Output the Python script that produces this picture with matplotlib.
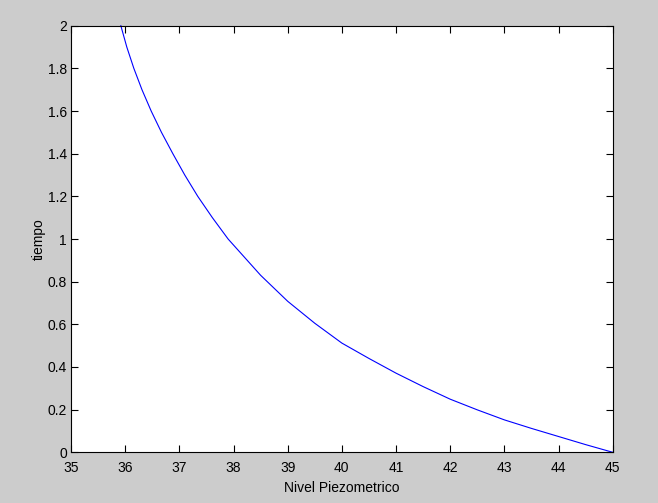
import matplotlib
matplotlib.use('Agg')
import matplotlib.pyplot as plt

# datos
nivel = [35.92, 36.03, 36.16, 36.31, 36.48, 36.67, 36.88, 37.10, 37.34, 37.61,
         37.90, 38.5, 39.0, 39.5, 40.0, 40.5, 41.0, 41.5, 42.0, 42.5,
         43.0, 43.5, 44.0, 44.5, 45.0]
tiempo = [2.0, 1.9, 1.8, 1.7, 1.6, 1.5, 1.4, 1.3, 1.2, 1.1,
          1.0, 0.83, 0.708, 0.605, 0.512, 0.44, 0.371, 0.308, 0.249, 0.199,
          0.152, 0.112, 0.074, 0.036, 0.0]

xticks = list(range(35, 46))
yticks = [0, 0.2, 0.4, 0.6, 0.8, 1, 1.2, 1.4, 1.6, 1.8, 2]
yticklabels = ['0', '0.2', '0.4', '0.6', '0.8', '1', '1.2', '1.4', '1.6', '1.8', '2']

plt.rcParams['font.family'] = ['Liberation Sans', 'DejaVu Sans']

fig = plt.figure(figsize=(6.58, 5.03), dpi=100, facecolor='#cccccc')
ax = fig.add_axes([0.1079, 0.1008, 0.8233, 0.8481])
ax.set_facecolor('white')

ax.plot(nivel, tiempo, color='#0000ff', linewidth=0.8, clip_on=False)

ax.set_xlim(35, 45)
ax.set_ylim(0, 2)
ax.set_xticks(xticks)
ax.set_yticks(yticks)
ax.set_yticklabels(yticklabels)
ax.tick_params(direction='in', top=True, right=True, length=5, width=0.8,
               labelsize=10, colors='black')
ax.tick_params(axis='x', pad=6.5)
ax.tick_params(axis='y', pad=3)
for s in ax.spines.values():
    s.set_linewidth(0.8)

ax.set_xlabel('Nivel Piezometrico', fontsize=10, labelpad=4)
ax.set_ylabel('tiempo', fontsize=10, labelpad=1.5)

fig.savefig('out.png', dpi=100, facecolor=fig.get_facecolor())
